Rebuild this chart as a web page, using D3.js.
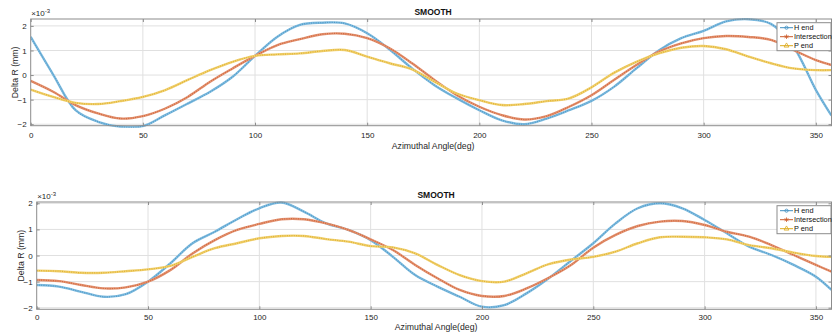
<!DOCTYPE html>
<html lang="en">
<head>
<meta charset="UTF-8">
<title>SMOOTH</title>
<style>
  * { box-sizing: border-box; margin: 0; padding: 0; }
  body { background: #fff; }
  svg { display: block; font-family: "Liberation Sans", Arial, sans-serif; }
  .grid line { stroke: #e0e0e0; stroke-width: 1; }
  .tick text { fill: #262626; font-size: 8px; }
  .frame { fill: none; stroke: #8c8c8c; stroke-width: 1; }
  .title { font-size: 8.5px; font-weight: bold; fill: #111; }
  .xlabel, .ylabel { font-size: 8.7px; fill: #262626; }
  .legend text { font-size: 7.3px; fill: #111; }
</style>
</head>
<body>
<svg width="833" height="333"></svg>
<script src="https://d3js.org/d3.v7.min.js"></script>
<script>
  // angles (deg) sampled every 10 deg, last point at the end of the record
  const angles = [0, 10, 20, 30, 40, 50, 60, 70, 80, 90, 100, 110, 120, 130, 140, 150, 160, 170,
    180, 190, 200, 210, 220, 230, 240, 250, 260, 270, 280, 290, 300, 310, 320, 330, 340, 350, 357];

  const seriesNames = ["H end", "Intersection", "P end"];

  // top panel, values in units of 1e-3 mm
  const topH = [1.55, 0.02, -1.43, -1.9, -2.1, -2.08, -1.63, -1.16, -0.68, -0.07, 0.78, 1.56, 2.04, 2.13, 2.1, 1.7, 1.04, 0.27,
    -0.41, -0.95, -1.43, -1.84, -2.0, -1.77, -1.43, -1.05, -0.48, 0.27, 1.0, 1.5, 1.8, 2.18, 2.27, 2.08, 1.16, -0.6, -1.65];
  const topI = [-0.24, -0.68, -1.22, -1.56, -1.77, -1.67, -1.36, -0.89, -0.27, 0.27, 0.78, 1.22, 1.46, 1.66, 1.68, 1.5, 1.09, 0.48,
    -0.2, -0.82, -1.29, -1.63, -1.81, -1.67, -1.29, -0.82, -0.2, 0.41, 0.95, 1.29, 1.5, 1.59, 1.55, 1.43, 1.02, 0.61, 0.41];
  const topP = [-0.59, -0.89, -1.13, -1.18, -1.06, -0.89, -0.61, -0.2, 0.2, 0.54, 0.78, 0.84, 0.88, 0.98, 1.02, 0.75, 0.48, 0.23,
    -0.27, -0.75, -1.02, -1.22, -1.18, -1.06, -0.95, -0.5, 0.09, 0.54, 0.88, 1.11, 1.18, 1.05, 0.75, 0.48, 0.27, 0.2, 0.2];

  // bottom panel
  const botH = [-1.13, -1.19, -1.39, -1.58, -1.48, -1.0, -0.3, 0.47, 0.91, 1.39, 1.81, 2.03, 1.68, 1.23, 0.98, 0.59, -0.05, -0.75,
    -1.19, -1.58, -1.96, -1.9, -1.45, -0.87, -0.2, 0.47, 1.23, 1.81, 2.0, 1.81, 1.36, 0.85, 0.34, 0.02, -0.36, -0.81, -1.32];
  const botI = [-0.94, -0.98, -1.13, -1.26, -1.22, -1.0, -0.56, 0.08, 0.59, 0.98, 1.21, 1.39, 1.39, 1.23, 0.98, 0.62, 0.21, -0.36,
    -0.87, -1.32, -1.55, -1.55, -1.26, -0.85, -0.36, 0.3, 0.79, 1.13, 1.3, 1.32, 1.17, 0.91, 0.72, 0.4, 0.02, -0.36, -0.62];
  const botP = [-0.58, -0.6, -0.66, -0.66, -0.6, -0.53, -0.4, -0.05, 0.28, 0.47, 0.66, 0.75, 0.75, 0.63, 0.53, 0.36, 0.31, 0.08,
    -0.36, -0.75, -0.98, -1.0, -0.68, -0.33, -0.15, -0.05, 0.15, 0.47, 0.7, 0.72, 0.7, 0.62, 0.4, 0.28, 0.11, -0.02, -0.05];

  const xTicks = [0, 50, 100, 150, 200, 250, 300, 350];
  const yTicks = [-2, -1, 0, 1, 2];

  const colors = [
    { base: "#80bcdf", dot: "#3f8fc2" },
    { base: "#e39372", dot: "#cc5a2a" },
    { base: "#f0d070", dot: "#dcaa1c" }
  ];

  const panels = [
    { series: [topH, topI, topP], box: { l: 30.7, r: 831.5, t: 19, b: 125.7 }, ylim: [-2.06, 2.28], tickPad: 7, xlabY: 149 },
    { series: [botH, botI, botP], box: { l: 36.7, r: 831.5, t: 202, b: 309.3 }, ylim: [-2.06, 2.05], tickPad: 5, xlabY: 330.3 }
  ];

  const svg = d3.select("svg");

  function drawPanel(p) {
    const g = svg.append("g");
    const x = d3.scaleLinear().domain([0, 357]).range([p.box.l, p.box.r]);
    const y = d3.scaleLinear().domain(p.ylim).range([p.box.b, p.box.t]);
    const w = p.box.r - p.box.l, h = p.box.b - p.box.t;

    // grid
    const grid = g.append("g").attr("class", "grid");
    grid.selectAll(".gx").data(xTicks.filter(d => d > 0)).enter().append("line")
      .attr("x1", d => x(d)).attr("x2", d => x(d)).attr("y1", p.box.t).attr("y2", p.box.b);
    grid.selectAll(".gy").data(yTicks).enter().append("line")
      .attr("x1", p.box.l).attr("x2", p.box.r).attr("y1", d => y(d)).attr("y2", d => y(d));

    // lines
    const line = d3.line().x((d, i) => x(angles[i])).y(d => y(d)).curve(d3.curveCatmullRom.alpha(0.5));
    const clipId = "clip" + Math.round(p.box.t);
    g.append("clipPath").attr("id", clipId).append("rect")
      .attr("x", p.box.l).attr("y", p.box.t - 2).attr("width", w).attr("height", h + 4);
    const lines = g.append("g").attr("clip-path", `url(#${clipId})`);
    p.series.forEach((s, i) => {
      lines.append("path").attr("d", line(s)).attr("fill", "none")
        .attr("stroke", colors[i].base).attr("stroke-width", 2.4);
      lines.append("path").attr("d", line(s)).attr("fill", "none")
        .attr("stroke", colors[i].dot).attr("stroke-width", 1.2)
        .attr("stroke-dasharray", "1 1.3").attr("opacity", 0.75);
    });

    // axes
    const xAxis = d3.axisBottom(x).tickValues(xTicks).tickSize(-3).tickPadding(p.tickPad);
    const ax = g.append("g").attr("transform", `translate(0,${p.box.b})`).call(xAxis);
    const yAxis = d3.axisLeft(y).tickValues(yTicks).tickSize(-3).tickPadding(4).tickFormat(d3.format("d"));
    const ay = g.append("g").attr("transform", `translate(${p.box.l},0)`).call(yAxis);
    const yAxisR = d3.axisRight(y).tickValues(yTicks).tickSize(-3).tickFormat("");
    const ayr = g.append("g").attr("transform", `translate(${p.box.r},0)`).call(yAxisR);
    const xAxisT = d3.axisTop(x).tickValues(xTicks).tickSize(-3).tickFormat("");
    const axt = g.append("g").attr("transform", `translate(0,${p.box.t})`).call(xAxisT);
    [ax, ay, ayr, axt].forEach(a => {
      a.select(".domain").remove();
      a.selectAll(".tick line").attr("stroke", "#8c8c8c");
    });
    g.append("rect").attr("class", "frame")
      .attr("x", p.box.l).attr("y", p.box.t).attr("width", w).attr("height", h);

    // exponent
    const ex = g.append("text").attr("x", p.box.l + 0.5).attr("y", p.box.t - 3)
      .attr("font-size", 8).attr("fill", "#262626");
    ex.append("tspan").text("\u00d710");
    ex.append("tspan").attr("dy", -3).attr("font-size", 6).text("-3");

    // titles
    g.append("text").attr("class", "title").attr("text-anchor", "middle")
      .attr("x", (p.box.l + p.box.r) / 2 + 2).attr("y", p.box.t - 4).text("SMOOTH");
    g.append("text").attr("class", "xlabel").attr("text-anchor", "middle")
      .attr("x", (p.box.l + p.box.r) / 2 + 2).attr("y", p.xlabY).text("Azimuthal Angle(deg)");
    g.append("text").attr("class", "ylabel").attr("text-anchor", "middle")
      .attr("transform", `translate(${p.box.l - 13},${(p.box.t + p.box.b) / 2}) rotate(-90)`)
      .text("Delta R (mm)");

    // legend
    const lg = g.append("g").attr("class", "legend").attr("transform", `translate(777,${p.box.t + 3.7})`);
    lg.append("rect").attr("width", 54).attr("height", 28).attr("fill", "#fff").attr("stroke", "#8c8c8c");
    seriesNames.forEach((name, i) => {
      const yy = 5 + i * 9;
      lg.append("line").attr("x1", 3).attr("x2", 16).attr("y1", yy).attr("y2", yy)
        .attr("stroke", colors[i].dot).attr("stroke-width", 1);
      if (i === 0) {
        lg.append("circle").attr("cx", 9.5).attr("cy", yy).attr("r", 1.6)
          .attr("fill", "none").attr("stroke", colors[i].dot).attr("stroke-width", 0.8);
      } else if (i === 1) {
        lg.append("path").attr("d", d3.symbol(d3.symbolAsterisk, 14)())
          .attr("transform", `translate(9.5,${yy})`).attr("stroke", colors[i].dot).attr("stroke-width", 0.8);
      } else {
        lg.append("path").attr("d", d3.symbol(d3.symbolTriangle, 10)())
          .attr("transform", `translate(9.5,${yy})`).attr("fill", "none")
          .attr("stroke", colors[i].dot).attr("stroke-width", 0.8);
      }
      lg.append("text").attr("x", 17).attr("y", yy + 2.7).text(name);
    });
  }

  panels.forEach(drawPanel);
</script>
</body>
</html>
